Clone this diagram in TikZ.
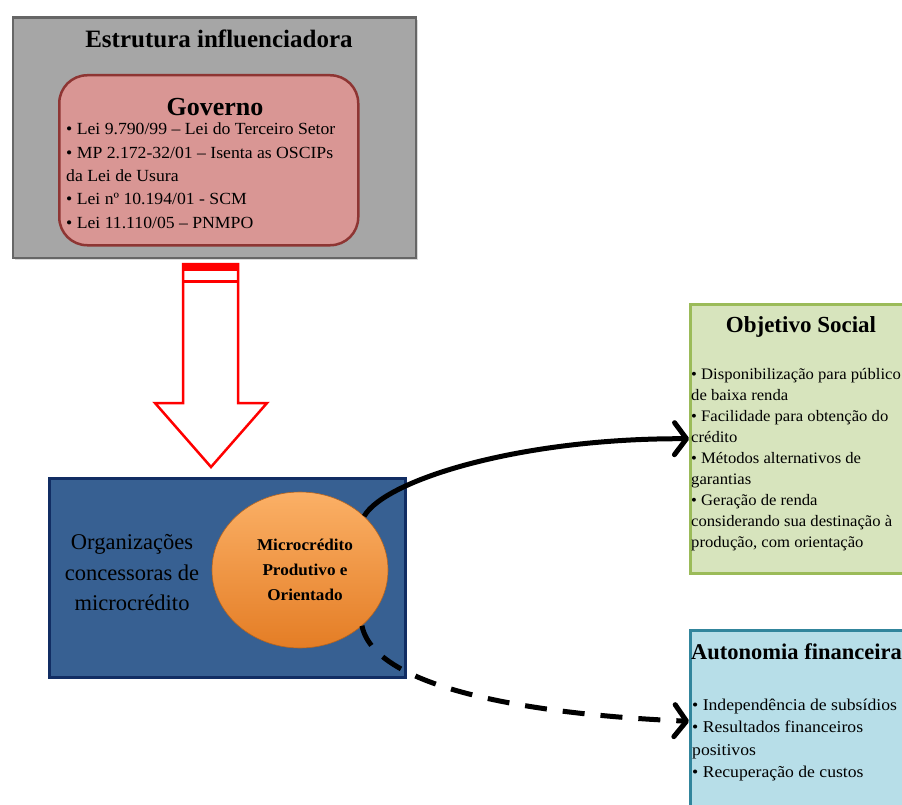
\documentclass[tikz,border=0pt]{standalone}
\usepackage{fontspec}
\setmainfont{Liberation Serif}
\newfontfamily\corpo[FakeStretch=1.04]{Liberation Serif}
\newfontfamily\corpolargo[FakeStretch=1.07]{Liberation Serif}
\usepackage{xcolor}
\usepackage{tikz}
\usetikzlibrary{shapes.geometric, arrows.meta, positioning, calc, shadows}

\definecolor{cinza}{HTML}{A6A6A6}
\definecolor{cinzaBorda}{HTML}{666666}
\definecolor{rosa}{HTML}{D99694}
\definecolor{rosaBorda}{HTML}{8E3533}
\definecolor{azul}{HTML}{376092}
\definecolor{azulBorda}{HTML}{112D63}
\definecolor{laranjaClaro}{HTML}{FBB066}
\definecolor{laranjaEscuro}{HTML}{E47D25}
\definecolor{verde}{HTML}{D7E4BD}
\definecolor{verdeBorda}{HTML}{9BBB59}
\definecolor{azulClaro}{HTML}{B7DEE8}
\definecolor{azulClaroBorda}{HTML}{31859C}

\newcommand{\fs}[2]{\fontsize{#1}{#2}\selectfont}

\begin{document}
\begin{tikzpicture}[
    x=1pt, y=-1pt,
    box/.style={draw, line width=2.5pt, inner sep=0pt, anchor=north west},
    txt/.style={inner sep=0pt, align=left, anchor=north west},
    titulo/.style={inner sep=0pt, font=\bfseries\fs{23}{28}},
    arrow/.style={-{Straight Barb[length=12pt, width=32pt, round]}, line width=5pt}
]
\useasboundingbox (0,0) rectangle (902,805);

% Nodes
\node[box, fill=cinza, draw=cinzaBorda, minimum width=403pt, minimum height=240pt,
      drop shadow={opacity=0.3, shadow xshift=2pt, shadow yshift=-2pt}] (estrutura) at (11.5,16.5) {};
\node[titulo, font=\bfseries\fs{25}{30}] (estruturaTit) at (219,39) {Estrutura influenciadora};
\node[box, fill=rosa, draw=rosaBorda, rounded corners=28pt, minimum width=299pt, minimum height=170pt] (governo) at (58,74) {};
\node[titulo, font=\bfseries\fs{26}{30}] (governoTit) at (215,107) {Governo};
\node[txt, font=\corpo\fs{17}{23.3}] (leis) at (66,123) {%
  • Lei 9.790/99 – Lei do Terceiro  Setor\\
  • MP 2.172-32/01 – Isenta as OSCIPs\\
  da Lei de Usura\\
  • Lei nº 10.194/01 - SCM\\
  • Lei 11.110/05 – PNMPO};

\node[box, fill=azul, draw=azulBorda, minimum width=356pt, minimum height=199pt] (org) at (48,477) {};
\node[inner sep=0pt, align=center, font=\fs{22.5}{30.5}] (orgTxt) at (132,573) {Organizações\\concessoras de\\microcrédito};
\node[ellipse, minimum width=176pt, minimum height=156pt, top color=laranjaClaro, bottom color=laranjaEscuro,
      draw=laranjaEscuro!80!black, line width=0.6pt, align=center, font=\corpo\bfseries\fs{16.5}{25}] (micro) at (300,570)
      {\hspace{10pt}Microcrédito\\\hspace{10pt}Produtivo e\\\hspace{10pt}Orientado};

\node[box, fill=verde, draw=verdeBorda, minimum width=260pt, minimum height=269pt,
      drop shadow={opacity=0.25, shadow xshift=1.5pt, shadow yshift=-1.5pt}] (objetivo) at (689,303) {};
\node[titulo] (objetivoTit) at (801,327) {Objetivo Social};
\node[txt, font=\corpo\fs{16}{21}] (objetivoLista) at (691,368) {%
  • Disponibilização para público\\
  de baixa renda\\
  • Facilidade para obtenção do\\
  crédito\\
  • Métodos alternativos de\\
  garantias\\
  • Geração de renda\\
  considerando sua destinação à\\
  produção, com orientação};

\node[box, fill=azulClaro, draw=azulClaroBorda, minimum width=260pt, minimum height=182pt] (autonomia) at (689,629) {};
\node[titulo, anchor=west, font=\bfseries\fs{22.5}{28}] (autonomiaTit) at (691,652) {Autonomia financeira};
\node[txt, font=\corpolargo\fs{16.5}{22.3}] (autonomiaLista) at (692,699) {%
  • Independência de subsídios\\
  • Resultados financeiros\\
  positivos\\
  • Recuperação de custos};

% Block arrow (estrutura -> org)
\draw[red, line width=2.5pt, fill=white, line join=miter]
  (183,264) -- (238,264) -- (238,403) -- (267,403) -- (211,467) -- (155,403) -- (183,403) -- cycle;
\fill[red] (183,263) rectangle (238,271);
\draw[red, line width=3pt] (183,281) -- (238,281);

% Edges
\draw[arrow] (micro.40) .. controls (385,480) and (520,438) .. (objetivo.west);
\draw[arrow, dash pattern=on 22pt off 16pt] (micro.-42) .. controls (375,690) and (540,715) .. (autonomia.west);

\end{tikzpicture}
\end{document}
